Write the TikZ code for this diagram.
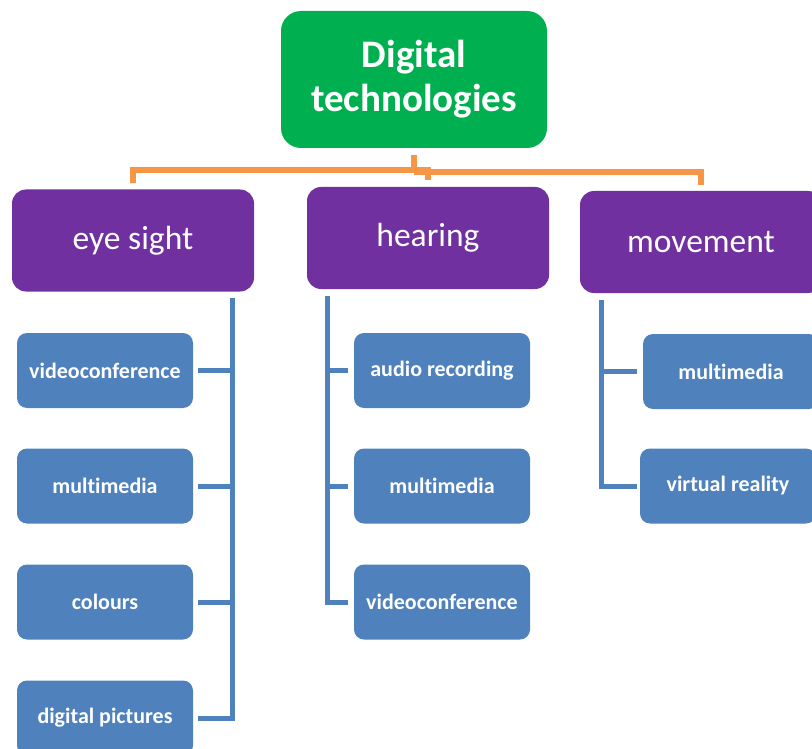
\documentclass[tikz,border=0pt]{standalone}
\usepackage{fontspec}
\setmainfont[Ligatures={NoCommon}]{Carlito}
\definecolor{cgreen}{HTML}{00B050}
\definecolor{cpurple}{HTML}{7030A0}
\definecolor{cblue}{HTML}{4F81BD}
\definecolor{corange}{HTML}{F79646}
\begin{document}
\begin{tikzpicture}[x=1pt,y=-1pt,
  topbox/.style={fill=cgreen,text=white,rounded corners=20pt,minimum width=266pt,minimum height=137pt,
    align=center,inner sep=0pt,font=\fontsize{39}{44}\selectfont\bfseries},
  catbox/.style={fill=cpurple,text=white,rounded corners=14pt,minimum width=242pt,minimum height=102pt,
    inner sep=0pt,font=\fontsize{33.5}{38}\selectfont},
  leafbox/.style={fill=cblue,text=white,rounded corners=10pt,minimum width=176pt,minimum height=75pt,
    inner sep=0pt,font=\fontsize{22}{25}\selectfont\bfseries},
  oc/.style={draw=corange,line width=5.5pt,line join=miter},
  bc/.style={draw=cblue,line width=5pt,line join=miter}]
\useasboundingbox (0,0) rectangle (812,749);
\clip (0,0) rectangle (812,749);
\fill[white] (0,0) rectangle (812,749);
% nodes
\node[topbox] (dt) at (414,79.5) {Digital\\technologies};
\node[catbox] (eye) at (133,240.5) {eye sight};
\node[catbox] (hear) at (428,238) {hearing};
\node[catbox] (mov) at (701,242) {movement};
\node[leafbox] (e1) at (105,370.5) {videoconference};
\node[leafbox] (e2) at (105,486) {multimedia};
\node[leafbox] (e3) at (105,602) {colours};
\node[leafbox] (e4) at (105,718) {digital pictures};
\node[leafbox] (h1) at (442,370.5) {audio recording};
\node[leafbox] (h2) at (442,486) {multimedia};
\node[leafbox] (h3) at (442,602) {videoconference};
\node[leafbox] (m1) at (731,371.5) {multimedia};
\node[leafbox] (m2) at (728,486) {virtual reality};
% orange connectors
\coordinate (jA) at ([yshift=-22]dt.south);
\coordinate (jB) at ([yshift=-24]dt.south);
\draw[oc] ([yshift=-7]dt.south) -- (jA) -| ([yshift=6]eye.north);
\draw[oc] (jB) -| ([yshift=6]mov.north);
\draw[oc] (jA) -| ([yshift=7]hear.north);
% blue connectors: eye sight
\coordinate (eT) at ([xshift=-22,yshift=-6]eye.south east);
\draw[bc] (eT) |- ([xshift=5]e4.east);
\draw[bc] ([xshift=5]e1.east) -- (e1.east -| eT);
\draw[bc] ([xshift=5]e2.east) -- (e2.east -| eT);
\draw[bc] ([xshift=5]e3.east) -- (e3.east -| eT);
% hearing
\coordinate (hT) at ([xshift=21,yshift=-7]hear.south west);
\draw[bc] (hT) |- ([xshift=-6]h3.west);
\draw[bc] ([xshift=-6]h1.west) -- (h1.west -| hT);
\draw[bc] ([xshift=-6]h2.west) -- (h2.west -| hT);
% movement
\coordinate (mT) at ([xshift=22,yshift=-7]mov.south west);
\draw[bc] (mT) |- ([xshift=-3]m2.west);
\draw[bc] ([xshift=-6]m1.west) -- (m1.west -| mT);
\end{tikzpicture}
\end{document}
